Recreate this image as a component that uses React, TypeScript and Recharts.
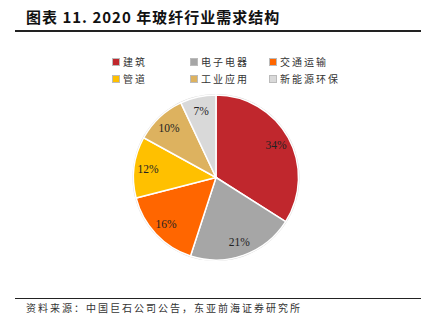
import { PieChart, Pie, Cell } from 'recharts';

const categories = ['建筑', '电子电器', '交通运输', '管道', '工业应用', '新能源环保'];
const shares = [34, 21, 16, 12, 10, 7];
const colors = ['#C0272D', '#A6A6A6', '#FF6600', '#FFC000', '#DDB25F', '#D9D9D9'];

const titleText = '图表 11. 2020 年玻纤行业需求结构';
const sourceText = '资料来源：中国巨石公司公告，东亚前海证券研究所';

const data = categories.map((name, i) => ({ name, value: shares[i] }));

const RAD = Math.PI / 180;

function renderLabel(props: any) {
  const { cx, cy, midAngle, outerRadius, value } = props;
  const r = outerRadius * 0.83;
  const x = cx + r * Math.cos(-midAngle * RAD);
  const y = cy + r * Math.sin(-midAngle * RAD);
  return (
    <text
      x={x}
      y={y}
      textAnchor="middle"
      dominantBaseline="central"
      fill="#222"
      fontSize={11.5}
      fontFamily="'Liberation Serif', serif"
    >
      {value}%
    </text>
  );
}

const cjk = "'Noto Sans CJK SC', sans-serif";

// legend grid positions (3 columns x 2 rows)
const legendCols = [112, 190, 269];
const legendRows = [62, 79];

export default function App() {
  return (
    <div
      style={{
        position: 'absolute',
        left: 0,
        top: 0,
        width: 430,
        height: 329,
        background: '#fff',
        overflow: 'hidden',
      }}
    >
      <div
        style={{
          position: 'absolute',
          left: 26,
          top: 7,
          fontFamily: cjk,
          fontWeight: 700,
          fontSize: 15,
          lineHeight: '20px',
          color: '#111',
          whiteSpace: 'nowrap',
          letterSpacing: 1,
        }}
      >
        {titleText}
      </div>
      <div style={{ position: 'absolute', left: 15, top: 30, width: 406, height: 2, background: '#222' }} />

      {categories.map((name, i) => {
        const x = legendCols[i % 3];
        const y = legendRows[Math.floor(i / 3)];
        return (
          <div key={name} style={{ position: 'absolute', left: x, top: y - 7, height: 14, whiteSpace: 'nowrap' }}>
            <span
              style={{
                position: 'absolute',
                left: 0,
                top: 3,
                width: 6,
                height: 6,
                background: colors[i],
                border: '1px solid #bbb',
              }}
            />
            <span
              style={{
                position: 'absolute',
                left: 11,
                top: 0,
                fontFamily: cjk,
                fontSize: 10,
                lineHeight: '14px',
                color: '#333',
                letterSpacing: 2,
              }}
            >
              {name}
            </span>
          </div>
        );
      })}

      <div style={{ position: 'absolute', left: 0, top: 0 }}>
        <PieChart width={430} height={329} margin={{ top: 0, right: 0, bottom: 0, left: 0 }}>
          {/* faint outline ring around the pie */}
          <Pie
            data={[{ name: 'ring', value: 1 }]}
            dataKey="value"
            cx={216}
            cy={177.5}
            innerRadius={82.5}
            outerRadius={83.5}
            fill="#d8d8d8"
            stroke="none"
            isAnimationActive={false}
          />
          <Pie
            data={data}
            dataKey="value"
            nameKey="name"
            cx={216}
            cy={177.5}
            outerRadius={82.5}
            startAngle={90}
            endAngle={-270}
            stroke="#fff"
            strokeWidth={1.5}
            label={renderLabel}
            labelLine={false}
            isAnimationActive={false}
          >
            {data.map((d, i) => (
              <Cell key={d.name} fill={colors[i]} />
            ))}
          </Pie>
        </PieChart>
      </div>

      <div style={{ position: 'absolute', left: 15, top: 297.5, width: 406, height: 1.5, background: '#222' }} />
      <div
        style={{
          position: 'absolute',
          left: 26,
          top: 301,
          fontFamily: cjk,
          fontSize: 10,
          lineHeight: '14px',
          color: '#333',
          whiteSpace: 'nowrap',
          letterSpacing: 2,
        }}
      >
        {sourceText}
      </div>
    </div>
  );
}
